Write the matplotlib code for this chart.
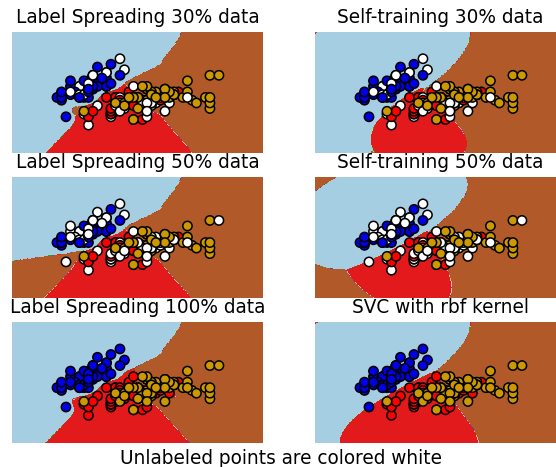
import numpy as np
import matplotlib
matplotlib.use("Agg")
import matplotlib.pyplot as plt

# iris: sepal length / sepal width (cm), setosa, versicolor, virginica
sepal_length = [
    5.1, 4.9, 4.7, 4.6, 5.0, 5.4, 4.6, 5.0, 4.4, 4.9, 5.4, 4.8, 4.8, 4.3, 5.8, 5.7, 5.4, 5.1, 5.7, 5.1,
    5.4, 5.1, 4.6, 5.1, 4.8, 5.0, 5.0, 5.2, 5.2, 4.7, 4.8, 5.4, 5.2, 5.5, 4.9, 5.0, 5.5, 4.9, 4.4, 5.1,
    5.0, 4.5, 4.4, 5.0, 5.1, 4.8, 5.1, 4.6, 5.3, 5.0,
    7.0, 6.4, 6.9, 5.5, 6.5, 5.7, 6.3, 4.9, 6.6, 5.2, 5.0, 5.9, 6.0, 6.1, 5.6, 6.7, 5.6, 5.8, 6.2, 5.6,
    5.9, 6.1, 6.3, 6.1, 6.4, 6.6, 6.8, 6.7, 6.0, 5.7, 5.5, 5.5, 5.8, 6.0, 5.4, 6.0, 6.7, 6.3, 5.6, 5.5,
    5.5, 6.1, 5.8, 5.0, 5.6, 5.7, 5.7, 6.2, 5.1, 5.7,
    6.3, 5.8, 7.1, 6.3, 6.5, 7.6, 4.9, 7.3, 6.7, 7.2, 6.5, 6.4, 6.8, 5.7, 5.8, 6.4, 6.5, 7.7, 7.7, 6.0,
    6.9, 5.6, 7.7, 6.3, 6.7, 7.2, 6.2, 6.1, 6.4, 7.2, 7.4, 7.9, 6.4, 6.3, 6.1, 7.7, 6.3, 6.4, 6.0, 6.9,
    6.7, 6.9, 5.8, 6.8, 6.7, 6.7, 6.3, 6.5, 6.2, 5.9,
]
sepal_width = [
    3.5, 3.0, 3.2, 3.1, 3.6, 3.9, 3.4, 3.4, 2.9, 3.1, 3.7, 3.4, 3.0, 3.0, 4.0, 4.4, 3.9, 3.5, 3.8, 3.8,
    3.4, 3.7, 3.6, 3.3, 3.4, 3.0, 3.4, 3.5, 3.4, 3.2, 3.1, 3.4, 4.1, 4.2, 3.1, 3.2, 3.5, 3.6, 3.0, 3.4,
    3.5, 2.3, 3.2, 3.5, 3.8, 3.0, 3.8, 3.2, 3.7, 3.3,
    3.2, 3.2, 3.1, 2.3, 2.8, 2.8, 3.3, 2.4, 2.9, 2.7, 2.0, 3.0, 2.2, 2.9, 2.9, 3.1, 3.0, 2.7, 2.2, 2.5,
    3.2, 2.8, 2.5, 2.8, 2.9, 3.0, 2.8, 3.0, 2.9, 2.6, 2.4, 2.4, 2.7, 2.7, 3.0, 3.4, 3.1, 2.3, 3.0, 2.5,
    2.6, 3.0, 2.6, 2.3, 2.7, 3.0, 2.9, 2.9, 2.5, 2.8,
    3.3, 2.7, 3.0, 2.9, 3.0, 3.0, 2.5, 2.9, 2.5, 3.6, 3.2, 2.7, 3.0, 2.5, 2.8, 3.2, 3.0, 3.8, 2.6, 2.2,
    3.2, 2.8, 2.8, 2.7, 3.3, 3.2, 2.8, 3.0, 2.8, 3.0, 2.8, 3.8, 2.8, 2.8, 2.6, 3.0, 3.4, 3.1, 3.0, 3.1,
    3.1, 3.1, 2.7, 3.2, 3.3, 3.0, 2.5, 3.0, 3.4, 3.0,
]
species = [0] * 50 + [1] * 50 + [2] * 50

# samples whose label is hidden (drawn white)
unlabeled_30 = [14, 15, 16, 24, 26, 30, 34, 43, 46, 47, 53, 54, 55, 57, 59, 60, 61, 63, 64, 67,
                69, 75, 76, 77, 78, 79, 82, 85, 87, 92, 94, 95, 97, 99, 101, 104, 108, 113, 126,
                129, 132, 133, 146]
unlabeled_50 = [4, 6, 9, 14, 15, 16, 22, 24, 26, 29, 30, 32, 34, 40, 41, 43, 46, 47, 48, 49, 51,
                53, 54, 55, 57, 58, 59, 60, 61, 63, 64, 65, 67, 69, 71, 75, 76, 77, 78, 79, 80,
                81, 82, 85, 87, 90, 92, 94, 95, 97, 99, 101, 104, 108, 110, 113, 115, 124, 126,
                127, 129, 131, 132, 133, 139, 141, 142, 146]

titles = ["Label Spreading 30% data", "Self-training 30% data",
          "Label Spreading 50% data", "Self-training 50% data",
          "Label Spreading 100% data", "SVC with rbf kernel"]

color_map = {-1: (1, 1, 1), 0: (0, 0, 0.9), 1: (1, 0, 0), 2: (0.8, 0.6, 0)}
PAIRS = [(0, 1), (0, 2), (1, 2)]


def rbf(A, B, gamma):
    d2 = (A ** 2).sum(1)[:, None] + (B ** 2).sum(1)[None, :] - 2 * A @ B.T
    return np.exp(-gamma * np.maximum(d2, 0))


def label_spreading(X, y, grid, gamma=20.0, alpha=0.2, max_iter=30, tol=1e-3):
    W = rbf(X, X, gamma)
    np.fill_diagonal(W, 0)
    d = np.sqrt(W.sum(0))
    S = W / d / d[:, None]
    F = np.zeros((len(y), 3))
    lab = y >= 0
    F[lab, y[lab]] = 1
    y_static = F * (1 - alpha)
    prev = np.zeros_like(F)
    for _ in range(max_iter):
        if np.abs(F - prev).sum() < tol:
            break
        prev = F
        F = alpha * (S @ F) + y_static
    F = F / np.where(F.sum(1) == 0, 1, F.sum(1))[:, None]
    return (rbf(grid, X, gamma) @ F).argmax(1)


def smo(K, t, C=1.0, tol=1e-3):
    # dual of the soft margin svm, max violating pair
    a = np.zeros(len(t))
    G = -np.ones(len(t))
    Q = K * np.outer(t, t)
    for _ in range(50000):
        up = ((t > 0) & (a < C)) | ((t < 0) & (a > 0))
        low = ((t > 0) & (a > 0)) | ((t < 0) & (a < C))
        v = -t * G
        i = np.where(up)[0][v[up].argmax()]
        j = np.where(low)[0][v[low].argmin()]
        if v[i] - v[j] < tol:
            break
        eta = max(K[i, i] + K[j, j] - 2 * K[i, j], 1e-12)
        step = min((v[i] - v[j]) / eta,
                   C - a[i] if t[i] > 0 else a[i],
                   a[j] if t[j] > 0 else C - a[j])
        a[i] += t[i] * step
        a[j] -= t[j] * step
        G += step * (t[i] * Q[:, i] - t[j] * Q[:, j])
    free = (a > 1e-8) & (a < C - 1e-8)
    if not free.any():
        free = a > 1e-8
    rho = np.mean(t[free] * G[free])
    return a * t, rho


def fit_sigmoid(f, t):
    n1 = (t > 0).sum()
    n0 = len(t) - n1
    target = np.where(t > 0, (n1 + 1) / (n1 + 2), 1 / (n0 + 2))
    A, B = 0.0, np.log((n0 + 1) / (n1 + 1))
    for _ in range(100):
        p = 1 / (1 + np.exp(np.clip(A * f + B, -500, 500)))
        g = target - p
        w = p * (1 - p)
        H = np.array([[w @ (f * f) + 1e-10, w @ f], [w @ f, w.sum() + 1e-10]])
        step = np.linalg.solve(H, [g @ f, g.sum()])
        step *= min(1.0, 5.0 / np.abs(step).max())
        A -= step[0]
        B -= step[1]
        if np.abs(step).max() < 1e-8:
            break
    return A, B


def fit_svc(X, y, gamma=0.5):
    model = []
    for ci, cj in PAIRS:
        m = (y == ci) | (y == cj)
        Xp = X[m]
        t = np.where(y[m] == ci, 1.0, -1.0)
        K = rbf(Xp, Xp, gamma)
        coef, rho = smo(K, t)
        A, B = fit_sigmoid(K @ coef - rho, t)
        model.append((ci, cj, Xp, coef, rho, A, B))
    return model


def svc_predict(model, Z, gamma=0.5):
    votes = np.zeros((len(Z), 3))
    for ci, cj, Xp, coef, rho, A, B in model:
        f = rbf(Z, Xp, gamma) @ coef - rho
        votes[f > 0, ci] += 1
        votes[f <= 0, cj] += 1
    return votes.argmax(1)


def svc_proba(model, Z, gamma=0.5):
    r = np.zeros((len(Z), 3, 3))
    for ci, cj, Xp, coef, rho, A, B in model:
        f = rbf(Z, Xp, gamma) @ coef - rho
        p = np.clip(1 / (1 + np.exp(np.clip(A * f + B, -500, 500))), 1e-7, 1 - 1e-7)
        r[:, ci, cj] = p
        r[:, cj, ci] = 1 - p
    out = np.zeros((len(Z), 3))
    for n in range(len(Z)):
        rr = r[n]
        Q = -(rr.T * rr)
        np.fill_diagonal(Q, (rr ** 2).sum(0))
        p = np.full(3, 1 / 3)
        for _ in range(100):
            Qp = Q @ p
            pQp = p @ Qp
            if np.abs(Qp - pQp).max() < 0.005 / 3:
                break
            for k in range(3):
                diff = (-Qp[k] + pQp) / Q[k, k]
                p[k] += diff
                pQp = (pQp + diff * (diff * Q[k, k] + 2 * Qp[k])) / (1 + diff) ** 2
                Qp = (Qp + diff * Q[:, k]) / (1 + diff)
                p /= 1 + diff
        out[n] = p
    return out


def self_training(X, y, threshold=0.75, max_iter=10):
    y = y.copy()
    for _ in range(max_iter):
        unl = y < 0
        if not unl.any():
            break
        model = fit_svc(X[~unl], y[~unl])
        prob = svc_proba(model, X[unl])
        pick = prob.max(1) > threshold
        if not pick.any():
            break
        y[np.where(unl)[0][pick]] = prob.argmax(1)[pick]
    lab = y >= 0
    return fit_svc(X[lab], y[lab])


X = np.column_stack([sepal_length, sepal_width])
y = np.array(species)
y_30 = y.copy()
y_30[unlabeled_30] = -1
y_50 = y.copy()
y_50[unlabeled_50] = -1

h = 0.02
xx, yy = np.meshgrid(np.arange(X[:, 0].min() - 1, X[:, 0].max() + 1, h),
                     np.arange(X[:, 1].min() - 1, X[:, 1].max() + 1, h))
grid = np.c_[xx.ravel(), yy.ravel()]

results = [
    (label_spreading(X, y_30, grid), y_30),
    (svc_predict(self_training(X, y_30), grid), y_30),
    (label_spreading(X, y_50, grid), y_50),
    (svc_predict(self_training(X, y_50), grid), y_50),
    (label_spreading(X, y, grid), y),
    (svc_predict(fit_svc(X, y), grid), y),
]

DPI = 111.3
W, H = 556, 467
fig = plt.figure(figsize=(W / DPI, (H + 0.4) / DPI), dpi=DPI)
lefts = [12, 315]
tops = [32, 177, 322]
aw, ah = 251, 121

for i, ((Z, y_train), title) in enumerate(zip(results, titles)):
    r, c = divmod(i, 2)
    ax = fig.add_axes([lefts[c] / W, 1 - (tops[r] + ah) / H, aw / W, ah / H])
    ax.contourf(xx, yy, Z.reshape(xx.shape), cmap=plt.cm.Paired)
    ax.axis("off")
    colors = [color_map[v] for v in y_train]
    ax.scatter(X[:, 0], X[:, 1], c=colors, edgecolors="black")
    ax.set_title(title)

fig.suptitle("Unlabeled points are colored white", x=281 / W, y=1 - 449 / H)
fig.savefig("out.png", dpi=DPI)
